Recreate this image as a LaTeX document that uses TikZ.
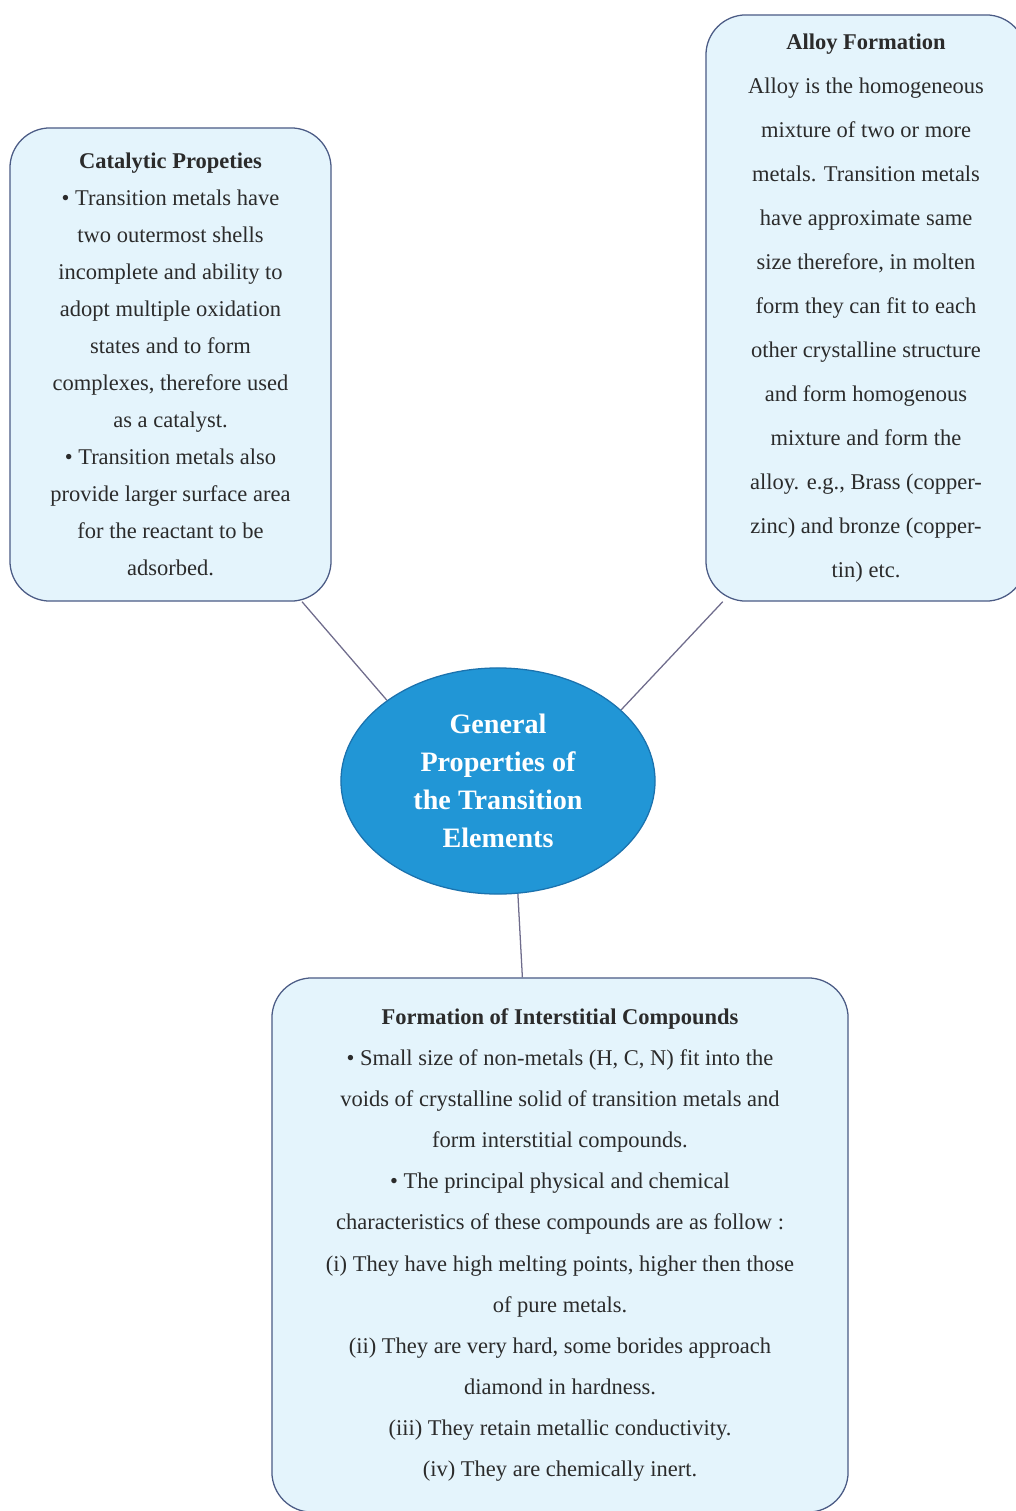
\documentclass[tikz,border=0pt]{standalone}
\usepackage{fontspec}
\setmainfont{Liberation Serif}
\usepackage{tikz}
\usepackage{xcolor}
\usetikzlibrary{shapes.geometric,backgrounds}
\definecolor{Edge}{HTML}{4B5B85}
\definecolor{Link}{HTML}{6F6C8C}
\definecolor{SoftCyan}{HTML}{E4F4FC}
\definecolor{CoreBlue}{HTML}{2196D6}
\definecolor{CoreEdge}{HTML}{1B72AE}
\definecolor{Ink}{HTML}{2B2B2B}

\begin{document}
\begin{tikzpicture}[
  x=0.025cm,y=-0.025cm,
  card/.style={rounded corners=1cm,draw=Edge,fill=SoftCyan,line width=0.9pt,align=center,text=Ink,inner sep=0pt},
  core/.style={ellipse,draw=CoreEdge,fill=CoreBlue,line width=0.9pt,minimum width=7.85cm,minimum height=5.65cm,align=center,text=white,inner sep=0pt,font=\fontsize{20}{27}\selectfont\bfseries},
  link/.style={draw=Link,line width=0.9pt}
]
\useasboundingbox (0,0) rectangle (1015,1511);
\node[core] (gen) at (498,781) {General\\Properties of\\the Transition\\Elements};
\node[card,minimum width=8.025cm,minimum height=11.825cm,font=\fontsize{16}{26.3}\selectfont] (cat) at (170.5,364.5)
  {\textbf{Catalytic Propeties}\\
   \textbullet{} Transition metals have\\two outermost shells\\incomplete and ability to\\adopt multiple oxidation\\states and to form\\complexes, therefore used\\as a catalyst.\\
   \textbullet{} Transition metals also\\provide larger surface area\\for the reactant to be\\adsorbed.};
\node[card,minimum width=8cm,minimum height=14.65cm,font=\fontsize{16}{31.3}\selectfont] (alloy) at (866,308)
  {\textbf{Alloy Formation}\\
   Alloy is the homogeneous\\mixture of two or more\\metals. Transition metals\\have approximate same\\size therefore, in molten\\form they can fit to each\\other crystalline structure\\and form homogenous\\mixture and form the\\alloy. e.g., Brass (copper-\\zinc) and bronze (copper-\\tin) etc.};
\node[card,minimum width=14.4cm,minimum height=13.35cm,font=\fontsize{16}{29.2}\selectfont] (inter) at (560,1245)
  {\textbf{Formation of Interstitial Compounds}\\
   \textbullet{} Small size of non-metals (H, C, N) fit into the\\voids of crystalline solid of transition metals and\\form interstitial compounds.\\
   \textbullet{} The principal physical and chemical\\characteristics of these compounds are as follow :\\
   (i) They have high melting points, higher then those\\of pure metals.\\
   (ii) They are very hard, some borides approach\\diamond in hardness.\\
   (iii) They retain metallic conductivity.\\
   (iv) They are chemically inert.};
\begin{scope}[on background layer]
\fill[white] (0,0) rectangle (1015,1511);
\draw[link] (gen.144) -- (cat.-61);
\draw[link] (gen.30) -- (alloy.-116);
\draw[link] (gen.-80) -- (inter.98);
\end{scope}
\end{tikzpicture}
\end{document}
